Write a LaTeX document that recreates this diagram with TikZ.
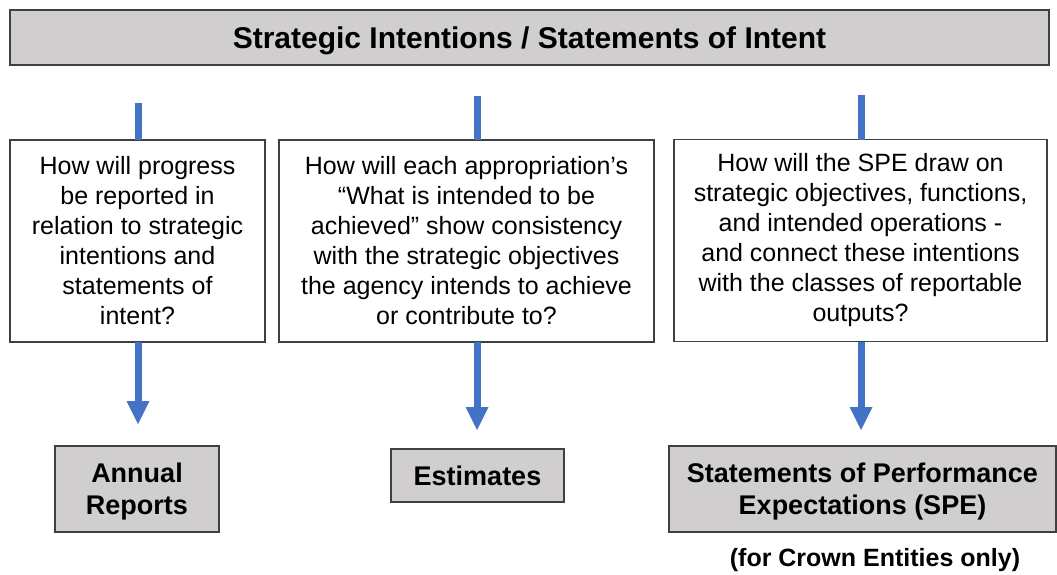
\documentclass[tikz,border=0pt]{standalone}
\usepackage{fontspec}
\setmainfont{Liberation Sans}
\usetikzlibrary{arrows.meta}
\definecolor{boxgray}{HTML}{D0CECE}
\definecolor{edgegray}{HTML}{404040}
\definecolor{flowblue}{HTML}{4472C4}
\begin{document}
\begin{tikzpicture}[x=1pt,y=-1pt,
  panel/.style={draw=edgegray, line width=1.3pt, inner sep=0pt, outer sep=0pt, align=center},
  header/.style={panel, fill=boxgray, text depth=0pt, font=\fontsize{30}{36}\selectfont\bfseries},
  question/.style={panel, fill=white, font=\fontsize{25}{30}\selectfont},
  outcome/.style={panel, fill=boxgray, text depth=0pt, font=\fontsize{27}{32}\selectfont\bfseries},
  note/.style={inner sep=0pt, font=\fontsize{25}{30}\selectfont\bfseries},
  stub/.style={flowblue, line width=7pt},
  flow/.style={flowblue, line width=7pt, -{Triangle[width=23pt,length=23pt,line width=0pt]}},
]
\useasboundingbox (0,0) rectangle (1057,574);

% header bar
\node[header, minimum width=1039pt, minimum height=55pt] (top) at (529.5,37.5)
  {Strategic Intentions / Statements of Intent};

% question panels
\node[question, minimum width=255pt, minimum height=202pt] (q1) at (137.5,241)
  {How will progress\\be reported in\\relation to strategic\\intentions and\\statements of\\intent?};
\node[question, minimum width=375pt, minimum height=202pt] (q2) at (466.5,241)
  {How will each appropriation’s\\“What is intended to be\\achieved” show consistency\\with the strategic objectives\\the agency intends to achieve\\or contribute to?};
\node[question, minimum width=373pt, minimum height=202pt] (q3) at (860.5,240.5)
  {How will the SPE draw on\\strategic objectives, functions,\\and intended operations -\\and connect these intentions\\with the classes of reportable\\outputs?};

% outcome boxes
\node[outcome, minimum width=164pt, minimum height=86pt] (ar) at (137,489)
  {Annual\\Reports};
\node[outcome, minimum width=173pt, minimum height=53pt] (est) at (477.5,475.5)
  {Estimates};
\node[outcome, minimum width=387pt, minimum height=86pt] (spe) at (862.5,489)
  {Statements of Performance\\Expectations (SPE)};
\node[note] (crown) at (875,560) {(for Crown Entities only)};

% connector ends
\coordinate (s1) at (138,103);
\coordinate (s2) at (477,96);
\coordinate (s3) at (861,95);
\coordinate (e1) at (138,424);
\coordinate (e2) at (477,430);
\coordinate (e3) at (861,430);

% incoming stubs and outgoing arrows
\draw[stub] (s1) -- (s1 |- q1.north);
\draw[stub] (s2) -- (s2 |- q2.north);
\draw[stub] (s3) -- (s3 |- q3.north);
\draw[flow] (e1 |- q1.south) -- (e1);
\draw[flow] (e2 |- q2.south) -- (e2);
\draw[flow] (e3 |- q3.south) -- (e3);
\end{tikzpicture}
\end{document}
